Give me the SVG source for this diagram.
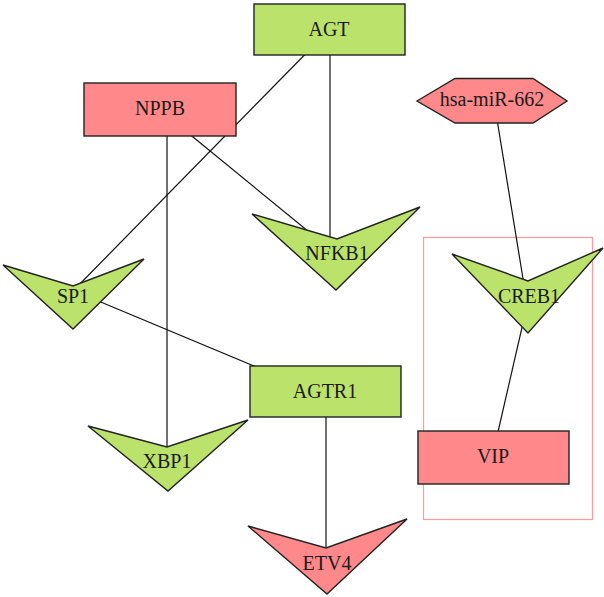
<svg xmlns="http://www.w3.org/2000/svg" width="604" height="597" viewBox="0 0 604 597">
<style>
.e{stroke:#111;stroke-width:1.2;fill:none}
.g{fill:#bbe36b;stroke:#222;stroke-width:1.4}
.r{fill:#ff898a;stroke:#222;stroke-width:1.4}
text{font-family:"Liberation Serif","DejaVu Serif",serif;font-size:20px;fill:#1a1a1a;text-anchor:middle}
</style>
<rect x="423.5" y="237.5" width="169" height="282" fill="none" stroke="#ff9a9a" stroke-width="1.2"/>
<g id="edges">
<line class="e" x1="330" y1="29" x2="72" y2="292"/>
<line class="e" x1="330" y1="55" x2="330" y2="238"/>
<line class="e" x1="160" y1="110" x2="336" y2="254"/>
<line class="e" x1="167" y1="136" x2="167" y2="447"/>
<line class="e" x1="72" y1="290" x2="326" y2="396"/>
<line class="e" x1="326" y1="417" x2="326" y2="548"/>
<line class="e" x1="494" y1="101" x2="526" y2="297"/>
<line class="e" x1="529" y1="297" x2="492" y2="458"/>
</g>
<g id="AGT"><rect class="g" x="254" y="4" width="151" height="51"/><text x="329" y="36">AGT</text></g>
<g id="NPPB"><rect class="r" x="84" y="83" width="152" height="53"/><text x="160" y="115">NPPB</text></g>
<g id="hsa-miR-662"><polygon class="r" points="417,101 455,78.5 533,78.5 567,101 533,123 455,123"/><text x="492" y="106">hsa-miR-662</text></g>
<g id="NFKB1"><polygon class="g" points="252,214 337,239 420,207 336,290"/><text x="337" y="260">NFKB1</text></g>
<g id="SP1"><polygon class="g" points="3,265 73,286 144,259 73,329"/><text x="73" y="303">SP1</text></g>
<g id="CREB1"><polygon class="g" points="452,254 528,281 603,248 528,333"/><text x="529" y="303">CREB1</text></g>
<g id="AGTR1"><rect class="g" x="250" y="366" width="151" height="51"/><text x="325" y="398">AGTR1</text></g>
<g id="XBP1"><polygon class="g" points="88,426 167,447 248,420 168,491"/><text x="167" y="468">XBP1</text></g>
<g id="ETV4"><polygon class="r" points="248,526 326,548 407,519 327,594"/><text x="327" y="570">ETV4</text></g>
<g id="VIP"><rect class="r" x="418" y="431" width="151" height="53"/><text x="493" y="463">VIP</text></g>
</svg>
